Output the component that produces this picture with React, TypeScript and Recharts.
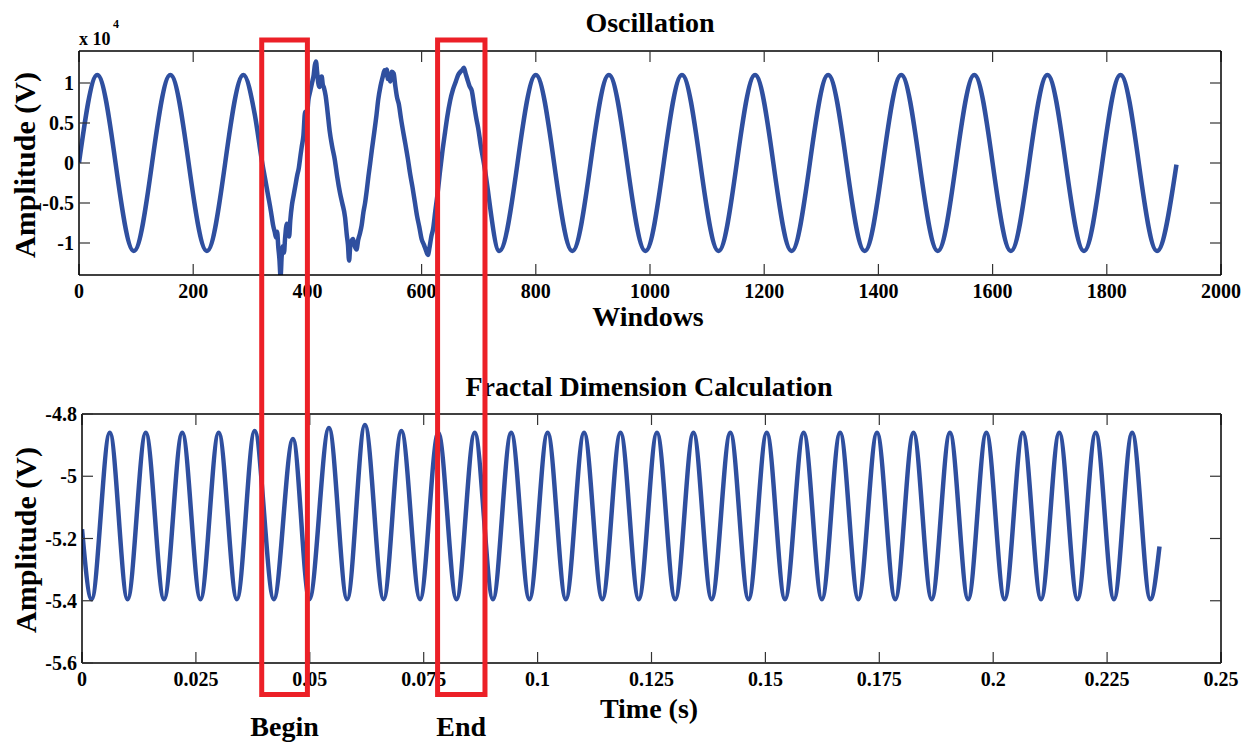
import { Line, LineChart, XAxis, YAxis } from 'recharts'

// top panel: windows vs amplitude (x10^4 V)
const oscWindows = [
  0, 32, 96, 160, 224, 288, 308,
  320, 326, 331, 336, 340, 343, 345, 347, 349, 351, 353, 355, 357, 359, 361, 364, 366, 368, 370,
  373, 376, 379, 382, 385, 388, 390, 393, 396, 399, 402, 405, 408, 411, 413, 415, 417, 419, 421,
  423, 425, 427, 429, 432, 435, 439, 443, 448, 452, 457, 461, 466, 469, 471, 473, 475, 477, 480,
  483, 486, 489, 492, 495, 498, 501, 504, 507, 510, 513, 517, 521, 524, 528, 532, 535, 537, 539,
  541, 543, 545, 548, 551, 554, 557, 560, 564, 568, 572, 576, 580, 584, 588, 592, 596, 600, 604,
  608, 611, 614, 617, 620, 624, 628, 632, 636, 641, 645, 650, 655, 660, 664, 668, 671, 674, 677,
  680, 684, 688, 692, 696, 699, 704, 709,
  736, 800, 864, 928, 992, 1056, 1120, 1184, 1248, 1312, 1376, 1440, 1504, 1568, 1632, 1696,
  1760, 1824, 1888, 1922,
]
const oscAmp = [
  0, 1.1, -1.1, 1.1, -1.1, 1.1, 0.6,
  0.04, -0.2, -0.4, -0.6, -0.78, -0.87, -0.93, -0.86, -1.05, -1.2, -1.42, -1.16, -1.04, -1.12,
  -0.93, -0.76, -0.86, -0.92, -0.72,
  -0.52, -0.4, -0.28, -0.16, -0.06, 0.1, 0.2, 0.34, 0.64, 0.6, 0.8, 0.9, 1.0, 1.1, 1.22, 1.27,
  1.14, 1.0, 0.95,
  1.05, 1.08, 0.98, 0.94, 0.84, 0.66, 0.4, 0.22, 0.04, -0.16, -0.37, -0.5, -0.68, -0.9, -1.02,
  -1.22, -1.04, -0.98, -0.95,
  -1.04, -1.08, -0.96, -0.88, -0.78, -0.62, -0.5, -0.34, -0.16, 0.0, 0.17, 0.38, 0.6, 0.79, 0.96,
  1.08, 1.16, 1.1, 1.17,
  1.05, 1.1, 1.02, 1.14, 1.12, 0.96, 0.82, 0.74, 0.55, 0.38, 0.22, 0.05, -0.14, -0.3, -0.48, -0.66,
  -0.8, -0.95, -1.02,
  -1.1, -1.15, -1.05, -0.92, -0.83, -0.6, -0.38, -0.12, 0.12, 0.38, 0.58, 0.78, 0.92, 1.02, 1.1,
  1.14, 1.16, 1.19, 1.12,
  1.05, 0.96, 0.9, 0.72, 0.55, 0.44, 0.2, 0.0,
  -1.1, 1.1, -1.1, 1.1, -1.1, 1.1, -1.1, 1.1, -1.1, 1.1, -1.1, 1.1, -1.1, 1.1, -1.1, 1.1,
  -1.1, 1.1, -1.1, -0.02,
]
const oscXTicks = [0, 200, 400, 600, 800, 1000, 1200, 1400, 1600, 1800, 2000]
const oscYTicks = [-1, -0.5, 0, 0.5, 1]

// bottom panel: time (s) vs amplitude (V), peaks and troughs
const fdTime = [
  0, 0.0021, 0.0061, 0.01, 0.014, 0.018, 0.022, 0.026, 0.03, 0.034, 0.0379, 0.0421, 0.0463,
  0.0499, 0.0542, 0.0582, 0.0621, 0.0662, 0.0701, 0.0742, 0.0782, 0.0822, 0.0862, 0.0902, 0.0942,
  0.0982, 0.1022, 0.1062, 0.1102, 0.1142, 0.1182, 0.1222, 0.1262, 0.1302, 0.1342, 0.1382, 0.1423,
  0.1463, 0.1503, 0.1543, 0.1584, 0.1624, 0.1664, 0.1704, 0.1745, 0.1785, 0.1825, 0.1865, 0.1905,
  0.1945, 0.1985, 0.2025, 0.2065, 0.2105, 0.2145, 0.2185, 0.2225, 0.2265, 0.2305, 0.2345, 0.2365,
]
const fdAmp = [
  -5.17, -5.395, -4.86, -5.395, -4.86, -5.395, -4.86, -5.395, -4.86, -5.395, -4.855, -5.395, -4.88,
  -5.395, -4.845, -5.395, -4.835, -5.395, -4.855, -5.395, -4.86, -5.395, -4.86, -5.395, -4.86,
  -5.395, -4.86, -5.395, -4.86, -5.395, -4.86, -5.395, -4.86, -5.395, -4.86, -5.395, -4.86,
  -5.395, -4.86, -5.395, -4.86, -5.395, -4.86, -5.395, -4.86, -5.395, -4.86, -5.395, -4.86,
  -5.395, -4.86, -5.395, -4.86, -5.395, -4.86, -5.395, -4.86, -5.395, -4.86, -5.395, -5.226,
]
const fdXTicks = [0, 0.025, 0.05, 0.075, 0.1, 0.125, 0.15, 0.175, 0.2, 0.225, 0.25]
const fdYTicks = [-5.6, -5.4, -5.2, -5, -4.8]

// Begin / End marker boxes, in windows of the top panel
const markStart = [320, 628]
const markEnd = [400, 711]
const markLabels = ['Begin', 'End']

const FONT = "'Liberation Serif', 'Times New Roman', serif"
const BLUE = '#2f4f9f'
const RED = '#ec2027'

const TOP = { left: 79, right: 1221, top: 51, bottom: 275 }
const BOT = { left: 82, right: 1221, top: 414, bottom: 663 }

const oscData = oscWindows.map((x, i) => ({ x, y: oscAmp[i] }))
const fdData = fdTime.map((x, i) => ({ x, y: fdAmp[i] }))

const tickStyle = { fill: '#000', fontSize: 20, fontWeight: 'bold', fontFamily: FONT }
const blank = () => ''

function Panel({
  data, xDomain, yDomain, xTicks, yTicks, height, margin,
}: {
  data: { x: number; y: number }[]
  xDomain: [number, number]
  yDomain: [number, number]
  xTicks: number[]
  yTicks: number[]
  height: number
  margin: { top: number; right: number; bottom: number; left: number }
}) {
  const frame = { stroke: '#000', strokeWidth: 1.5 }
  const tickLn = { stroke: '#333', strokeWidth: 1.2 }
  return (
    <LineChart width={1252} height={height} data={data} margin={margin}>
      <XAxis xAxisId="b" dataKey="x" type="number" domain={xDomain} ticks={xTicks} allowDataOverflow
        interval={0} height={30} tickSize={0} tickMargin={9} axisLine={frame} tickLine={false}
        tick={tickStyle} tickFormatter={(v) => String(v)} />
      <XAxis xAxisId="bm" dataKey="x" type="number" domain={xDomain} ticks={xTicks} allowDataOverflow
        interval={0} mirror tickFormatter={blank} tickSize={11} axisLine={false} tickLine={tickLn} />
      <XAxis xAxisId="t" dataKey="x" type="number" orientation="top" domain={xDomain} ticks={xTicks}
        allowDataOverflow interval={0} mirror tickFormatter={blank} tickSize={11} axisLine={frame}
        tickLine={tickLn} />
      <YAxis yAxisId="l" type="number" domain={yDomain} ticks={yTicks} allowDataOverflow interval={0}
        width={60} tickSize={0} tickMargin={5} axisLine={frame} tickLine={false} tick={tickStyle}
        tickFormatter={(v) => String(v)} />
      <YAxis yAxisId="lm" type="number" domain={yDomain} ticks={yTicks} allowDataOverflow interval={0}
        mirror tickFormatter={blank} tickSize={11} axisLine={false} tickLine={tickLn} />
      <YAxis yAxisId="r" type="number" orientation="right" domain={yDomain} ticks={yTicks}
        allowDataOverflow interval={0} mirror tickFormatter={blank} tickSize={11} axisLine={frame}
        tickLine={tickLn} />
      <Line xAxisId="b" yAxisId="l" type="monotone" dataKey="y" stroke={BLUE} strokeWidth={4.5}
        dot={false} isAnimationActive={false} />
    </LineChart>
  )
}

export default function App() {
  const topX = (w: number) => TOP.left + (w / 2000) * (TOP.right - TOP.left)
  const boxTop = 40
  const boxBottom = 694.5
  const txt = { fontFamily: FONT, fontWeight: 'bold' as const, fill: '#000' }

  return (
    <div style={{ position: 'absolute', left: 0, top: 0, width: 1252, height: 748, background: '#fff' }}>
      <div style={{ position: 'absolute', left: 0, top: 0 }}>
        <Panel data={oscData} xDomain={[0, 2000]} yDomain={[-1.4, 1.4]} xTicks={oscXTicks}
          yTicks={oscYTicks} height={340}
          margin={{ top: TOP.top, right: 1252 - TOP.right, bottom: 340 - TOP.bottom - 30, left: TOP.left - 60 }} />
      </div>
      <div style={{ position: 'absolute', left: 0, top: 360 }}>
        <Panel data={fdData} xDomain={[0, 0.25]} yDomain={[-5.6, -4.8]} xTicks={fdXTicks}
          yTicks={fdYTicks} height={388}
          margin={{ top: BOT.top - 360, right: 1252 - BOT.right, bottom: 748 - BOT.bottom - 30, left: BOT.left - 60 }} />
      </div>
      <svg width={1252} height={748} style={{ position: 'absolute', left: 0, top: 0, pointerEvents: 'none' }}>
        <text {...txt} x={650} y={32} fontSize={28} textAnchor="middle">Oscillation</text>
        <text {...txt} x={79} y={44.5} fontSize={18}>x 10</text>
        <text {...txt} x={113} y={28} fontSize={12}>4</text>
        <text {...txt} fontSize={30} textAnchor="middle" transform="translate(35,165) rotate(-90)">Amplitude (V)</text>
        <text {...txt} x={648} y={326} fontSize={28} textAnchor="middle">Windows</text>
        <text {...txt} x={649} y={396} fontSize={28} textAnchor="middle">Fractal Dimension Calculation</text>
        <text {...txt} fontSize={30} textAnchor="middle" transform="translate(36,540) rotate(-90)">Amplitude (V)</text>
        <text {...txt} x={649} y={718} fontSize={28} textAnchor="middle">Time (s)</text>
        {markStart.map((s, i) => (
          <g key={markLabels[i]}>
            <rect x={topX(s)} y={boxTop} width={topX(markEnd[i]) - topX(s)} height={boxBottom - boxTop}
              fill="none" stroke={RED} strokeWidth={5} />
            <text {...txt} x={(topX(s) + topX(markEnd[i])) / 2} y={736} fontSize={28} textAnchor="middle">
              {markLabels[i]}
            </text>
          </g>
        ))}
      </svg>
    </div>
  )
}
